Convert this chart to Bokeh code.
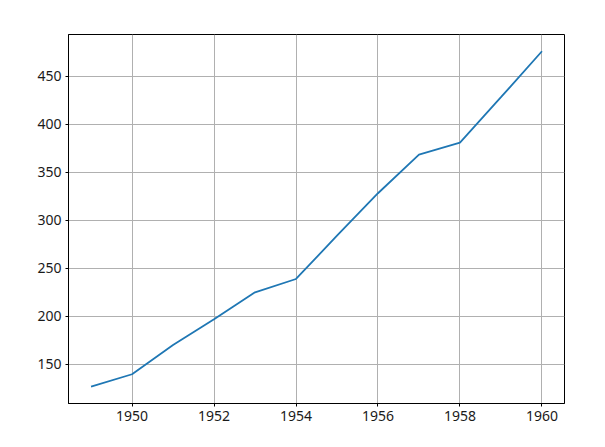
from bokeh.plotting import figure
from bokeh.models import FixedTicker, Range1d
from bokeh.embed import file_html
from bokeh.resources import INLINE

years = [1949, 1950, 1951, 1952, 1953, 1954, 1955, 1956, 1957, 1958, 1959, 1960]
passengers = [126.67, 139.67, 170.17, 197.0, 225.0, 238.92, 284.0, 328.25, 368.42, 381.0, 428.33, 476.17]
x_ticks = [1950, 1952, 1954, 1956, 1958, 1960]
y_ticks = [150, 200, 250, 300, 350, 400, 450]

xpad = (max(years) - min(years)) * 0.05
ypad = (max(passengers) - min(passengers)) * 0.05

p = figure(frame_width=496, frame_height=369,
           min_border_left=68, min_border_right=33, min_border_top=34, min_border_bottom=36,
           output_backend="svg", toolbar_location=None,
           x_range=Range1d(min(years) - xpad, max(years) + xpad),
           y_range=Range1d(min(passengers) - ypad, max(passengers) + ypad))

p.line(years, passengers, line_color="#1f77b4", line_width=1.8)

p.outline_line_color = "black"
p.outline_line_width = 1
p.background_fill_color = "white"
p.border_fill_color = "white"

for ax, ticks in ((p.xaxis, x_ticks), (p.yaxis, y_ticks)):
    ax.ticker = FixedTicker(ticks=ticks)
    ax.minor_tick_line_color = None
    ax.major_tick_out = 3
    ax.major_tick_in = 0
    ax.major_tick_line_color = "black"
    ax.axis_line_color = "black"
    ax.major_label_text_font = "Noto Sans"
    ax.major_label_text_font_size = "14px"
    ax.major_label_text_color = "#1a1a1a"
    ax.major_label_standoff = 4

for g, ticks in ((p.xgrid, x_ticks), (p.ygrid, y_ticks)):
    g.ticker = FixedTicker(ticks=ticks)
    g.grid_line_color = "#b0b0b0"
    g.grid_line_width = 1
    g.grid_line_alpha = 1.0

open("out.html", "w").write(file_html(p, INLINE))
